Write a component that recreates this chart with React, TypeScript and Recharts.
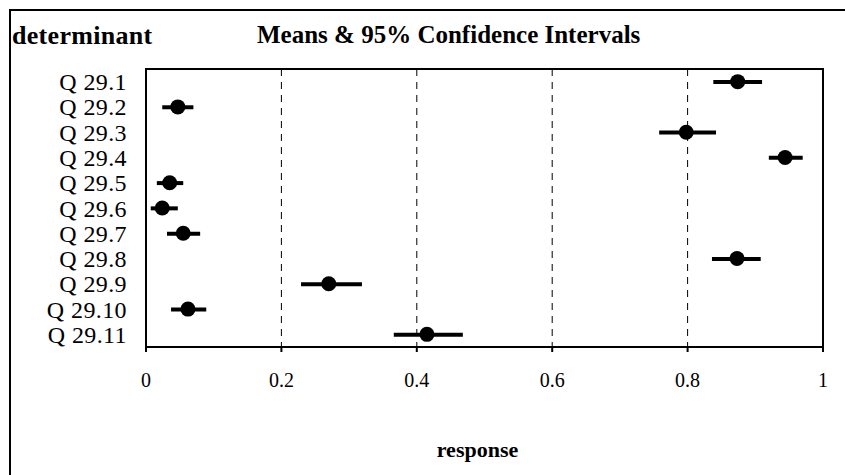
import React from 'react';
import {
  ComposedChart,
  Bar,
  Line,
  XAxis,
  YAxis,
  CartesianGrid,
  ReferenceArea,
} from 'recharts';

const questions = [
  'Q 29.1', 'Q 29.2', 'Q 29.3', 'Q 29.4', 'Q 29.5', 'Q 29.6',
  'Q 29.7', 'Q 29.8', 'Q 29.9', 'Q 29.10', 'Q 29.11',
];
const means = [0.874, 0.047, 0.798, 0.944, 0.035, 0.024, 0.055, 0.873, 0.27, 0.062, 0.415];
const lower = [0.838, 0.024, 0.758, 0.92, 0.016, 0.007, 0.031, 0.836, 0.229, 0.037, 0.366];
const upper = [0.91, 0.07, 0.842, 0.97, 0.055, 0.047, 0.08, 0.908, 0.319, 0.089, 0.468];
const xTicks = [0, 0.2, 0.4, 0.6, 0.8, 1];

const rows = questions.map((q, i) => ({
  name: q,
  mean: means[i],
  ci: [lower[i], upper[i]],
}));

const serif = '"Times New Roman", "Liberation Serif", Times, serif';

export default function App() {
  return (
    <div
      style={{
        position: 'absolute',
        left: 0,
        top: 0,
        width: 845,
        height: 475,
        background: '#fff',
        fontFamily: serif,
        overflow: 'hidden',
      }}
    >
      <div
        style={{
          position: 'absolute',
          left: 9,
          top: 9,
          width: 836,
          height: 466,
          borderTop: '2px solid #000',
          borderLeft: '2px solid #000',
        }}
      />
      <div style={{ position: 'absolute', left: 12, top: 21, fontSize: 26, fontWeight: 'bold', letterSpacing: 0.3 }}>
        determinant
      </div>
      <div style={{ position: 'absolute', left: 257, top: 21, fontSize: 25, fontWeight: 'bold' }}>
        Means &amp; 95% Confidence Intervals
      </div>
      <div
        style={{
          position: 'absolute',
          left: 0,
          width: 955,
          top: 437,
          textAlign: 'center',
          fontSize: 22,
          fontWeight: 'bold',
        }}
      >
        response
      </div>
      <div style={{ position: 'absolute', left: 0, top: 0 }}>
        <ComposedChart
          width={845}
          height={475}
          data={rows}
          layout="vertical"
          margin={{ top: 69, right: 22, bottom: 88, left: 0 }}
        >
          <CartesianGrid horizontal={false} stroke="#000" strokeDasharray="7 6" strokeWidth={1} />
          <XAxis
            type="number"
            domain={[0, 1]}
            ticks={xTicks}
            tickFormatter={(v: number) => String(v)}
            height={40}
            stroke="#000"
            strokeWidth={2}
            tickSize={5}
            tickMargin={21}
            tick={{ fill: '#000', fontSize: 20, fontFamily: serif }}
          />
          <YAxis
            type="category"
            dataKey="name"
            width={146}
            stroke="#000"
            strokeWidth={2}
            tickLine={false}
            tickMargin={13}
            interval={0}
            tick={{ fill: '#000', fontSize: 24, fontFamily: serif, letterSpacing: 0.4 }}
          />
          <ReferenceArea
            x1={0}
            x2={1}
            fill="none"
            stroke="#000"
            strokeWidth={2}
            ifOverflow="visible"
          />
          <Bar dataKey="ci" fill="#000" barSize={4} isAnimationActive={false} />
          <Line
            dataKey="mean"
            stroke="none"
            dot={{ r: 7.5, fill: '#000', stroke: 'none' }}
            activeDot={false}
            isAnimationActive={false}
          />
        </ComposedChart>
      </div>
    </div>
  );
}
